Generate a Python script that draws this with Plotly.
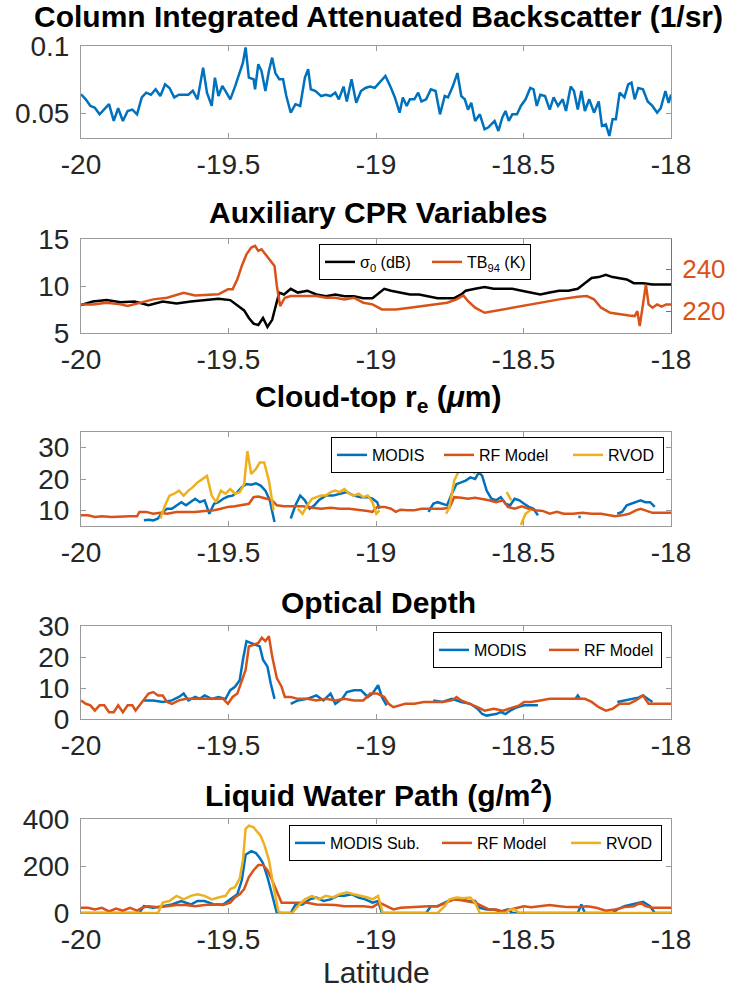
import plotly.graph_objects as go

N = None
# ---------------- Panel 1: column integrated attenuated backscatter ----------------
BSC_LAT = [-20.000, -19.984, -19.968, -19.953, -19.937, -19.921, -19.905, -19.889, -19.874, -19.858,
           -19.842, -19.826, -19.810, -19.794, -19.779, -19.763, -19.747, -19.731, -19.715, -19.700,
           -19.684, -19.668, -19.652, -19.636, -19.621, -19.605, -19.586, -19.573, -19.557, -19.546,
           -19.534, -19.521, -19.510, -19.494, -19.478, -19.462, -19.451, -19.442, -19.431, -19.415,
           -19.410, -19.399, -19.388, -19.375, -19.363, -19.352, -19.341, -19.328, -19.315, -19.304,
           -19.289, -19.273, -19.257, -19.241, -19.230, -19.221, -19.205, -19.186, -19.170, -19.154,
           -19.138, -19.126, -19.110, -19.099, -19.083, -19.067, -19.051, -19.036, -19.020, -19.004,
           -18.988, -18.968, -18.949, -18.936, -18.920, -18.909, -18.896, -18.885, -18.870, -18.857,
           -18.846, -18.830, -18.814, -18.798, -18.783, -18.767, -18.756, -18.740, -18.724, -18.711,
           -18.699, -18.688, -18.677, -18.664, -18.648, -18.632, -18.620, -18.609, -18.598, -18.585,
           -18.572, -18.561, -18.550, -18.538, -18.522, -18.509, -18.493, -18.477, -18.466, -18.455,
           -18.443, -18.427, -18.411, -18.398, -18.383, -18.367, -18.356, -18.340, -18.329, -18.316,
           -18.304, -18.292, -18.277, -18.261, -18.245, -18.234, -18.221, -18.209, -18.198, -18.187,
           -18.174, -18.158, -18.145, -18.134, -18.123, -18.111, -18.095, -18.079, -18.063, -18.047,
           -18.035, -18.019, -18.008, -18.000]
BSC_VAL = [0.0643, 0.0606, 0.0557, 0.0544, 0.0495, 0.053, 0.057, 0.0446, 0.054, 0.0446,
           0.052, 0.053, 0.0495, 0.062, 0.0655, 0.064, 0.068, 0.063, 0.0717, 0.069,
           0.062, 0.064, 0.064, 0.064, 0.067, 0.0606, 0.084, 0.0655, 0.0557, 0.0766,
           0.063, 0.0704, 0.0667, 0.0606, 0.070, 0.0815, 0.0877, 0.099, 0.0766, 0.0754,
           0.068, 0.0865, 0.0815, 0.0667, 0.0815, 0.0914, 0.080, 0.0754, 0.0754, 0.063,
           0.0507, 0.057, 0.0557, 0.0766, 0.0828, 0.068, 0.0667, 0.063, 0.064, 0.063,
           0.0655, 0.0606, 0.070, 0.059, 0.0754, 0.058, 0.0667, 0.069, 0.070, 0.069,
           0.0729, 0.0778, 0.069, 0.062, 0.0507, 0.062, 0.0557, 0.0606, 0.0606, 0.0655,
           0.059, 0.0606, 0.068, 0.0667, 0.0495, 0.063, 0.062, 0.070, 0.080, 0.063,
           0.0606, 0.053, 0.058, 0.0446, 0.0495, 0.0384, 0.0397, 0.042, 0.0446, 0.0372,
           0.047, 0.052, 0.0446, 0.0495, 0.0495, 0.0557, 0.0606, 0.069, 0.068, 0.0557,
           0.064, 0.063, 0.053, 0.062, 0.0557, 0.0606, 0.052, 0.070, 0.0667, 0.053,
           0.0667, 0.052, 0.0606, 0.0507, 0.059, 0.041, 0.042, 0.0335, 0.0458, 0.0458,
           0.0655, 0.062, 0.0717, 0.0729, 0.0606, 0.069, 0.068, 0.059, 0.0557, 0.0507,
           0.054, 0.0667, 0.058, 0.064]

# ---------------- Panel 2: auxiliary CPR variables ----------------
SIG_LAT = [-20.000, -19.960, -19.913, -19.866, -19.818, -19.771, -19.723, -19.676, -19.628, -19.581,
           -19.534, -19.494, -19.470, -19.447, -19.431, -19.415, -19.399, -19.383, -19.368, -19.352,
           -19.336, -19.328, -19.312, -19.289, -19.265, -19.233, -19.202, -19.170, -19.138, -19.107,
           -19.075, -19.043, -19.012, -18.988, -18.972, -18.949, -18.917, -18.885, -18.854, -18.822,
           -18.791, -18.759, -18.735, -18.711, -18.696, -18.664, -18.632, -18.601, -18.569, -18.538,
           -18.506, -18.474, -18.443, -18.411, -18.379, -18.348, -18.316, -18.292, -18.269, -18.245,
           -18.221, -18.198, -18.174, -18.150, -18.126, -18.095, -18.063, -18.032, -18.000]
SIG_VAL = [7.96, 8.35, 8.5, 8.27, 8.35, 7.96, 8.35, 8.15, 8.35, 8.5,
           8.65, 8.5, 7.96, 7.4, 6.6, 6.0, 5.85, 6.6, 5.65, 6.4,
           8.35, 9.3, 9.1, 9.7, 9.3, 9.5, 9.1, 8.9, 9.1, 8.9,
           8.9, 8.7, 8.7, 9.3, 9.7, 9.5, 9.3, 9.1, 9.1, 8.9,
           8.7, 8.7, 8.7, 9.1, 9.5, 9.7, 9.9, 9.7, 9.7, 9.7,
           9.5, 9.3, 9.1, 9.3, 9.5, 9.5, 9.7, 10.3, 10.85, 10.95,
           11.2, 10.95, 10.85, 10.7, 10.3, 10.3, 10.15, 10.15, 10.15]
TB_LAT = [-20.000, -19.960, -19.913, -19.866, -19.842, -19.802, -19.755, -19.708, -19.652, -19.613,
          -19.565, -19.534, -19.502, -19.486, -19.470, -19.455, -19.439, -19.423, -19.410, -19.399,
          -19.388, -19.375, -19.360, -19.344, -19.336, -19.325, -19.309, -19.289, -19.249, -19.202,
          -19.170, -19.138, -19.107, -19.075, -19.043, -19.012, -18.980, -18.933, -18.885, -18.838,
          -18.791, -18.759, -18.727, -18.704, -18.688, -18.664, -18.632, -18.601, -18.569, -18.538,
          -18.506, -18.443, -18.379, -18.316, -18.285, -18.261, -18.237, -18.206, -18.174, -18.142,
          -18.123, -18.114, -18.106, -18.095, -18.085, -18.076, -18.063, -18.047, -18.032, -18.016,
          -18.000]
TB_VAL = [223.2, 223.2, 224, 223.2, 222.4, 224, 225.6, 226.4, 228.8, 227.5,
          228, 228, 230.4, 230.4, 235.2, 241.6, 247.2, 250.4, 251.2, 248.8,
          249.6, 247.2, 244.8, 241.6, 232, 222.4, 226.4, 227.2, 227.2, 227.2,
          226.4, 226.4, 225.6, 226.4, 224, 223.2, 220.8, 220.8, 221.6, 222.4,
          223.2, 224, 225.6, 227.5, 224.8, 221.6, 219.2, 220, 220.8, 221.6,
          222.4, 224, 225.6, 226.9, 227.2, 225.6, 221.6, 219.2, 218.4, 217.9,
          217.6, 220, 212.8, 222.4, 232.8, 223.2, 221.6, 223.2, 222.1, 223.2,
          223.2]

# ---------------- Panel 3: cloud-top effective radius ----------------
RE_MODIS_LAT = [-19.787, -19.771, -19.755, -19.739, -19.723, -19.708, -19.692, -19.676, -19.660, -19.644,
                -19.628, -19.613, -19.597, -19.581, -19.565, -19.549, -19.534, -19.518, -19.502, -19.486,
                -19.470, -19.455, -19.439, -19.423, -19.407, -19.391, -19.375, -19.360, -19.344, -19.320,
                -19.289, -19.273, -19.257, -19.241, -19.225, -19.209, -19.194, -19.170, -19.146, -19.123,
                -19.099, -19.075, -19.051, -19.028, -19.012, -18.996, -18.988, -18.900,
                -18.822, -18.806, -18.791, -18.775, -18.759, -18.743, -18.727, -18.711, -18.696, -18.680,
                -18.664, -18.651, -18.640, -18.625, -18.609, -18.593, -18.577, -18.561, -18.545, -18.530,
                -18.514, -18.498, -18.482, -18.466, -18.451, -18.400,
                -18.314, -18.306, -18.250,
                -18.182, -18.166, -18.150, -18.134, -18.119, -18.103, -18.087, -18.071, -18.055]
RE_MODIS_VAL = [6.8, 7.0, 6.8, 7.4, 9.5, 10.5, 10.5, 11.6, 12.6, 11.6,
                12.6, 13.7, 12.6, 13.2, 8.9, 12.1, 12.6, 13.7, 14.4, 14.7,
                15.8, 17.4, 18.4, 18.2, 18.6, 17.9, 16.3, 13.2, 6.3, N,
                7.4, 11.6, 14.7, 13.2, 10.5, 11.6, 13.2, 14.7, 14.7, 15.3,
                15.8, 14.7, 14.2, 14.2, 13.7, 12.6, 10.5, N,
                9.5, 12.1, 12.6, 12.1, 11.6, 15.3, 18.4, 18.9, 19.5, 20.5,
                20.0, 22.1, 21.0, 16.3, 13.7, 13.2, 14.2, 12.1, 11.6, 13.7,
                13.2, 12.1, 11.1, 10.5, 8.4, N,
                7.9, 7.9, N,
                8.9, 9.5, 11.6, 12.1, 12.6, 13.2, 12.6, 12.6, 11.1]
RE_RF_LAT = [-20.000, -19.976, -19.953, -19.929, -19.897, -19.866, -19.834, -19.810, -19.802, -19.779,
             -19.755, -19.731, -19.708, -19.676, -19.644, -19.613, -19.581, -19.549, -19.526, -19.502,
             -19.478, -19.455, -19.431, -19.415, -19.399, -19.383, -19.368, -19.352, -19.336, -19.312,
             -19.281, -19.249, -19.217, -19.186, -19.154, -19.123, -19.091, -19.059, -19.028, -19.012,
             -18.996, -18.972, -18.949, -18.933, -18.917, -18.893, -18.870, -18.846, -18.822, -18.798,
             -18.775, -18.751, -18.735, -18.711, -18.688, -18.664, -18.640, -18.617, -18.593, -18.569,
             -18.553, -18.530, -18.506, -18.482, -18.458, -18.435, -18.411, -18.387, -18.364, -18.332,
             -18.300, -18.269, -18.237, -18.213, -18.190, -18.166, -18.142, -18.119, -18.103, -18.087,
             -18.063, -18.032, -18.000]
RE_RF_VAL = [8.4, 8.4, 7.9, 8.1, 7.9, 8.1, 8.1, 8.1, 9.5, 9.5,
             8.9, 9.2, 8.9, 9.5, 9.5, 9.5, 9.8, 10.0, 10.5, 11.1,
             11.3, 11.6, 12.1, 14.2, 14.4, 14.0, 13.7, 13.2, 11.6, 11.3,
             11.3, 11.3, 10.8, 10.5, 10.8, 10.5, 10.5, 10.2, 9.8, 9.5,
             11.1, 11.1, 10.5, 9.5, 10.2, 10.0, 10.0, 10.5, 10.5, 10.5,
             10.5, 10.8, 14.2, 14.0, 13.7, 14.0, 13.7, 13.2, 12.6, 13.2,
             11.1, 10.5, 11.3, 10.5, 10.0, 9.8, 8.9, 9.5, 8.9, 8.9,
             9.2, 8.9, 8.9, 8.4, 8.1, 8.4, 8.9, 10.0, 10.5, 10.0,
             9.2, 9.2, 9.2]
RE_RVOD_LAT = [-19.731, -19.715, -19.700, -19.684, -19.668, -19.652, -19.636, -19.621, -19.605, -19.589,
               -19.573, -19.557, -19.542, -19.526, -19.510, -19.494, -19.478, -19.462, -19.447, -19.436,
               -19.423, -19.407, -19.394, -19.379, -19.363, -19.347, -19.300,
               -19.265, -19.249, -19.233, -19.217, -19.202, -19.186, -19.170, -19.154, -19.138, -19.123,
               -19.107, -19.091, -19.075, -19.059, -19.043, -19.028, -19.012, -18.999, -18.988, -18.900,
               -18.762, -18.751, -18.735, -18.719, -18.704, -18.688, -18.672, -18.664, -18.600,
               -18.557, -18.541, -18.525,
               -18.509, -18.493, -18.477]
RE_RVOD_VAL = [7.4, 11.6, 14.7, 15.3, 16.3, 14.7, 16.3, 17.4, 18.9, 20.0,
               21.0, 14.7, 12.6, 16.3, 15.3, 16.8, 15.3, 15.8, 18.4, 28.9,
               21.6, 23.2, 25.3, 25.3, 19.5, 10.0, N,
               10.5, 8.9, 11.6, 13.7, 14.2, 14.7, 14.7, 15.8, 16.3, 15.8,
               16.8, 15.3, 14.7, 15.3, 14.2, 14.7, 12.6, 8.9, 10.0, N,
               8.9, 11.1, 19.5, 22.6, 22.1, 23.2, 22.6, 21.6, N,
               15.8, 13.2, N,
               5.3, 8.9, 10.0]

# ---------------- Panel 4: optical depth ----------------
OD_MODIS_LAT = [-19.787, -19.755, -19.723, -19.692, -19.668, -19.652, -19.636, -19.613, -19.597, -19.581,
                -19.557, -19.534, -19.510, -19.494, -19.478, -19.462, -19.451, -19.439, -19.423, -19.407,
                -19.394, -19.383, -19.368, -19.357, -19.344, -19.320,
                -19.289, -19.265, -19.233, -19.202, -19.178, -19.154, -19.138, -19.115, -19.099, -19.075,
                -19.051, -19.028, -19.012, -18.993, -18.980, -18.964, -18.900,
                -18.806, -18.775, -18.743, -18.711, -18.680, -18.656, -18.640, -18.625, -18.609, -18.593,
                -18.577, -18.561, -18.545, -18.522, -18.498, -18.474, -18.451, -18.400,
                -18.324, -18.316, -18.308, -18.250,
                -18.182, -18.158, -18.134, -18.111, -18.095, -18.079, -18.063]
OD_MODIS_VAL = [6.0, 6.0, 5.5, 6.0, 7.1, 8.2, 6.0, 7.1, 6.5, 7.6,
                6.5, 7.1, 6.5, 9.3, 10.4, 12.5, 19.1, 25.1, 24.5, 24.0,
                23.4, 19.1, 16.9, 11.5, 6.5, N,
                4.9, 6.0, 6.5, 7.6, 6.0, 8.2, 4.9, 6.5, 8.7, 9.3,
                9.3, 7.1, 8.2, 10.9, 7.1, 4.4, N,
                6.0, 5.5, 6.5, 5.5, 4.9, 3.3, 1.6, 1.1, 1.4, 1.6,
                2.2, 1.6, 2.7, 3.8, 4.4, 4.4, 4.4, N,
                6.5, 7.6, 6.5, N,
                5.5, 6.0, 6.5, 6.9, 7.6, 6.5, 5.5]
OD_RF_LAT = [-20.000, -19.984, -19.968, -19.953, -19.937, -19.921, -19.905, -19.889, -19.874, -19.858,
             -19.842, -19.826, -19.815, -19.802, -19.787, -19.771, -19.755, -19.739, -19.723, -19.708,
             -19.692, -19.668, -19.644, -19.613, -19.581, -19.549, -19.518, -19.502, -19.486, -19.470,
             -19.455, -19.442, -19.431, -19.415, -19.399, -19.387, -19.375, -19.363, -19.352, -19.336,
             -19.320, -19.309, -19.289, -19.265, -19.233, -19.202, -19.170, -19.138, -19.107, -19.075,
             -19.043, -19.020, -18.996, -18.972, -18.957, -18.941, -18.917, -18.901, -18.870, -18.838,
             -18.806, -18.775, -18.743, -18.727, -18.711, -18.680, -18.656, -18.632, -18.601, -18.569,
             -18.538, -18.514, -18.498, -18.474, -18.443, -18.411, -18.379, -18.348, -18.316, -18.292,
             -18.269, -18.245, -18.221, -18.198, -18.174, -18.142, -18.119, -18.095, -18.076, -18.047,
             -18.000]
OD_RF_VAL = [6.0, 4.9, 4.4, 2.7, 4.4, 4.4, 2.2, 2.2, 4.4, 2.2,
             4.4, 4.4, 2.7, 4.4, 6.0, 8.2, 8.7, 7.6, 7.6, 5.5,
             4.9, 6.0, 6.5, 6.5, 6.5, 6.5, 6.5, 4.9, 7.1, 8.2,
             12.0, 15.8, 23.4, 24.0, 24.5, 26.2, 25.1, 26.7, 20.2, 13.1,
             10.4, 7.1, 7.1, 6.5, 6.5, 6.0, 6.5, 6.0, 6.5, 6.0,
             6.0, 8.2, 8.2, 7.1, 4.9, 3.8, 4.4, 4.9, 4.9, 5.5,
             5.5, 5.5, 6.0, 7.1, 6.0, 4.9, 3.8, 2.7, 3.3, 2.7,
             3.8, 4.4, 5.5, 5.5, 6.0, 6.5, 6.5, 6.5, 6.5, 6.5,
             5.5, 3.8, 2.7, 3.3, 4.9, 4.9, 6.0, 7.6, 4.9, 4.9,
             4.9]

# ---------------- Panel 5: liquid water path ----------------
LWP_MODIS_LAT = [-20.000, -19.802, -19.787, -19.755, -19.723, -19.692, -19.660, -19.628, -19.605, -19.581,
                 -19.549, -19.518, -19.494, -19.470, -19.455, -19.442, -19.423, -19.407, -19.394, -19.383,
                 -19.368, -19.352, -19.336, -19.289, -19.273, -19.249, -19.225, -19.202, -19.178, -19.154,
                 -19.130, -19.107, -19.083, -19.059, -19.036, -19.012, -18.993, -18.980, -18.830, -18.814,
                 -18.791, -18.767, -18.743, -18.711, -18.688, -18.664, -18.648, -18.625, -18.601, -18.577,
                 -18.553, -18.538, -18.316, -18.304, -18.292, -18.198, -18.182, -18.158, -18.134, -18.111,
                 -18.095, -18.071, -18.055, -18.000]
LWP_MODIS_VAL = [0, 0, 29, 22, 29, 36, 51, 36, 51, 51,
                 36, 36, 58, 80, 139, 248, 263, 255, 234, 212,
                 153, 80, 0, 0, 36, 36, 58, 66, 51, 58,
                 73, 73, 80, 66, 58, 44, 51, 0, 0, 29,
                 29, 44, 58, 58, 51, 51, 22, 15, 15, 7,
                 15, 0, 0, 36, 0, 0, 15, 29, 36, 44,
                 48, 29, 0, 0]
LWP_RF_LAT = [-20.000, -19.976, -19.953, -19.929, -19.905, -19.881, -19.858, -19.834, -19.810, -19.794,
              -19.771, -19.739, -19.708, -19.676, -19.644, -19.613, -19.581, -19.549, -19.518, -19.494,
              -19.478, -19.462, -19.447, -19.431, -19.415, -19.399, -19.383, -19.368, -19.352, -19.336,
              -19.320, -19.296, -19.265, -19.233, -19.202, -19.170, -19.138, -19.107, -19.075, -19.043,
              -19.012, -18.988, -18.964, -18.941, -18.917, -18.885, -18.854, -18.822, -18.791, -18.759,
              -18.735, -18.711, -18.688, -18.664, -18.640, -18.617, -18.593, -18.569, -18.545, -18.522,
              -18.498, -18.474, -18.443, -18.411, -18.379, -18.348, -18.316, -18.285, -18.253, -18.221,
              -18.190, -18.158, -18.126, -18.103, -18.087, -18.063, -18.032, -18.000]
LWP_RF_VAL = [22, 22, 15, 22, 7, 19, 10, 22, 10, 22,
              29, 25, 29, 34, 34, 29, 34, 36, 34, 44,
              66, 80, 102, 153, 182, 204, 204, 182, 139, 95,
              44, 44, 44, 44, 36, 36, 34, 29, 29, 29,
              25, 44, 29, 15, 22, 25, 25, 29, 29, 44,
              58, 54, 48, 44, 29, 15, 15, 7, 15, 22,
              29, 25, 29, 34, 29, 25, 25, 29, 22, 10,
              15, 25, 29, 44, 29, 22, 22, 22]
LWP_RVOD_LAT = [-20.000, -19.739, -19.723, -19.700, -19.676, -19.652, -19.628, -19.605, -19.581, -19.557,
                -19.534, -19.510, -19.494, -19.478, -19.462, -19.451, -19.442, -19.431, -19.415, -19.404,
                -19.391, -19.379, -19.363, -19.347, -19.331, -19.320, -19.284, -19.265, -19.241, -19.217,
                -19.194, -19.170, -19.146, -19.123, -19.099, -19.075, -19.051, -19.028, -19.012, -18.993,
                -18.977, -18.791, -18.767, -18.751, -18.727, -18.704, -18.680, -18.664, -18.648, -18.561,
                -18.545, -18.530, -18.514, -18.000]
LWP_RVOD_VAL = [0, 0, 44, 51, 73, 58, 73, 80, 73, 58,
                66, 73, 102, 110, 146, 226, 358, 372, 365, 350,
                328, 292, 226, 110, 7, 0, 0, 29, 58, 73,
                58, 73, 66, 80, 88, 80, 73, 66, 58, 73,
                0, 0, 29, 58, 66, 63, 66, 44, 0, 0,
                15, 15, 0, 0]

XTICKS = [-20, -19.5, -19, -18.5, -18]
XTICKTEXT = ["-20", "-19.5", "-19", "-18.5", "-18"]

BLUE = "#0072BD"
ORANGE = "#D95319"
YELLOW = "#EDB120"
BLACK = "#000000"
AXC = "#9a9a9a"
TXT = "#262626"
FONT = "Liberation Sans"
LW = 2.5
TICKSIZE = 28

W, H = 730, 988
XL, XR = 81, 671
BOXES = [(46, 138), (239, 333), (432, 526), (626, 719), (819, 913)]


def ydom(t, b):
    return [1 - b / H, 1 - t / H]


fig = go.Figure()


def line(x, y, color, name, xa, ya, legend=None, show=False, lw=None):
    fig.add_trace(go.Scatter(x=x, y=y, mode="lines", name=name,
                             line=dict(color=color, width=LW),
                             xaxis=xa, yaxis=ya, connectgaps=False,
                             showlegend=show, legend=legend, legendwidth=lw))


line(BSC_LAT, BSC_VAL, BLUE, "CIAB", "x", "y")
line(SIG_LAT, SIG_VAL, BLACK, "σ<sub>0</sub> (dB)", "x2", "y2", "legend2", True, 62)
line(TB_LAT, TB_VAL, ORANGE, "TB<sub>94</sub> (K)", "x2", "y6", "legend2", True, 58)
line(RE_MODIS_LAT, RE_MODIS_VAL, BLUE, "MODIS", "x3", "y3", "legend3", True, 62)
line(RE_RF_LAT, RE_RF_VAL, ORANGE, "RF Model", "x3", "y3", "legend3", True, 84)
line(RE_RVOD_LAT, RE_RVOD_VAL, YELLOW, "RVOD", "x3", "y3", "legend3", True, 50)
line(OD_MODIS_LAT, OD_MODIS_VAL, BLUE, "MODIS", "x4", "y4", "legend4", True, 65)
line(OD_RF_LAT, OD_RF_VAL, ORANGE, "RF Model", "x4", "y4", "legend4", True, 72)
line(LWP_MODIS_LAT, LWP_MODIS_VAL, BLUE, "MODIS Sub.", "x5", "y5", "legend5", True, 102)
line(LWP_RF_LAT, LWP_RF_VAL, ORANGE, "RF Model", "x5", "y5", "legend5", True, 84)
line(LWP_RVOD_LAT, LWP_RVOD_VAL, YELLOW, "RVOD", "x5", "y5", "legend5", True, 50)

YCFG = [
    dict(range=[0.032, 0.1], tickvals=[0.05, 0.1], ticktext=["0.05", "0.1"]),
    dict(range=[5, 15], tickvals=[5, 10, 15], ticktext=["5", "10", "15"]),
    dict(range=[5, 35], tickvals=[10, 20, 30], ticktext=["10", "20", "30"]),
    dict(range=[0, 30], tickvals=[0, 10, 20, 30], ticktext=["0", "10", "20", "30"]),
    dict(range=[0, 400], tickvals=[0, 200, 400], ticktext=["0", "200", "400"]),
]

layout = dict(width=W, height=H, margin=dict(l=0, r=0, t=0, b=0, autoexpand=False),
              paper_bgcolor="white", plot_bgcolor="white",
              font=dict(family=FONT, color=TXT))

for i, (t, b) in enumerate(BOXES):
    k = "" if i == 0 else str(i + 1)
    layout["xaxis" + k] = dict(domain=[XL / W, XR / W], anchor="y" + k, range=[-20, -18],
                               tickvals=XTICKS, ticktext=XTICKTEXT, ticks="inside", ticklen=5,
                               tickcolor=AXC, showline=True, linecolor=AXC, linewidth=1,
                               mirror="ticks", showgrid=False, zeroline=False, automargin=False,
                               tickfont=dict(size=TICKSIZE, color=TXT, family=FONT),
                               ticklabelstandoff=1)
    yc = dict(domain=ydom(t, b), anchor="x" + k, ticks="inside", ticklen=5,
              tickcolor=AXC, showline=True, linecolor=AXC, linewidth=1,
              mirror=("ticks" if i != 1 else False), showgrid=False, zeroline=False,
              automargin=False,
              tickfont=dict(size=TICKSIZE, color=TXT, family=FONT), ticklabelstandoff=5)
    yc.update(YCFG[i])
    layout["yaxis" + k] = yc

layout["yaxis6"] = dict(overlaying="y2", side="right", anchor="x2", range=[209.5, 254.5],
                        tickvals=[220, 240], ticktext=["220", "240"], ticks="inside", ticklen=5,
                        tickcolor=ORANGE, showline=True, linecolor=ORANGE, linewidth=1,
                        showgrid=False, zeroline=False, automargin=False,
                        tickfont=dict(size=26, color=ORANGE, family=FONT), ticklabelstandoff=5)

LEG = dict(orientation="h", bgcolor="white", bordercolor="#000000", borderwidth=1,
           font=dict(size=16, color=BLACK, family=FONT), itemwidth=30,
           xanchor="right", yanchor="top")
layout["legend2"] = dict(LEG, x=531 / W, y=1 - 244 / H)
layout["legend3"] = dict(LEG, x=664 / W, y=1 - 437 / H)
layout["legend4"] = dict(LEG, x=662 / W, y=1 - 632 / H)
layout["legend5"] = dict(LEG, x=662 / W, y=1 - 825 / H)

TITLES = [
    ("Column Integrated Attenuated Backscatter (1/sr)", 17),
    ("Auxiliary CPR Variables", 212),
    ("Cloud-top r<sub>e</sub> (<i>μ</i>m)", 398),
    ("Optical Depth", 602),
    ("Liquid Water Path (g/m<sup>2</sup>)", 793),
]
ann = []
for txt, yc in TITLES:
    ann.append(dict(text="<b>" + txt + "</b>", x=378 / W, y=1 - yc / H, xref="paper", yref="paper",
                    xanchor="center", yanchor="middle", showarrow=False,
                    font=dict(size=30, color=BLACK, family=FONT)))
ann.append(dict(text="Latitude", x=376 / W, y=1 - 972 / H, xref="paper", yref="paper",
                xanchor="center", yanchor="middle", showarrow=False,
                font=dict(size=30, color=TXT, family=FONT)))
layout["annotations"] = ann

fig.update_layout(**layout)
fig.write_html("out.html")
